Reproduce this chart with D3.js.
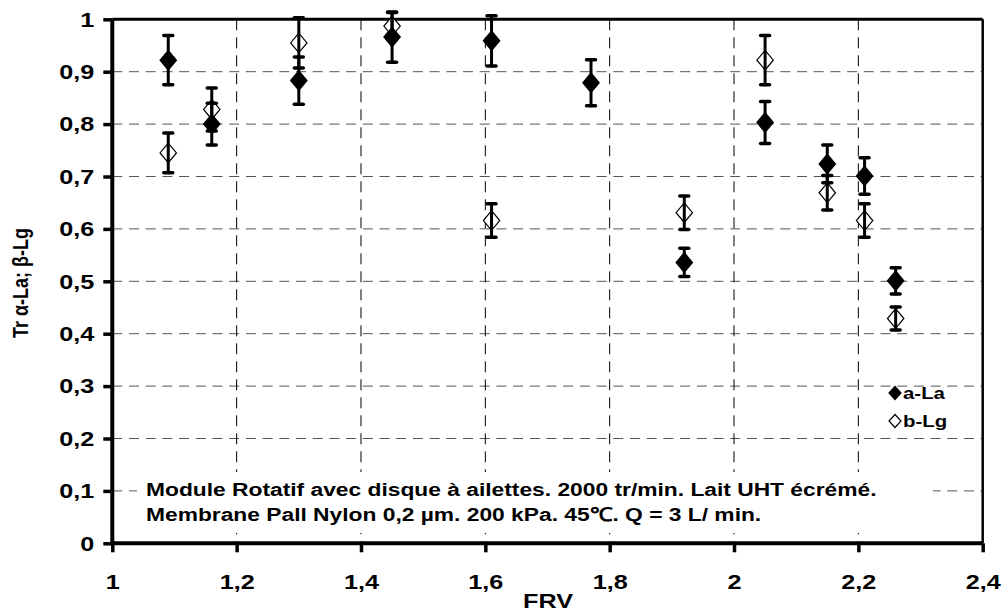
<!DOCTYPE html>
<html><head><meta charset="utf-8">
<script src="https://cdn.jsdelivr.net/npm/d3@7"></script>
<style>body{margin:0;background:#fff;} svg{display:block;font-family:"Liberation Sans",Arial,sans-serif;font-weight:bold;}</style>
</head><body>
<svg id="c" width="1006" height="614"></svg>
<script>
// Data
const frvALa = [1.09, 1.16, 1.30, 1.45, 1.61, 1.77, 1.92, 2.05, 2.15, 2.21, 2.26];
const aLa    = [0.922, 0.800, 0.883, 0.966, 0.959, 0.879, 0.536, 0.803, 0.724, 0.701, 0.501];
const aLaErr = [0.047, 0.040, 0.045, 0.048, 0.048, 0.044, 0.027, 0.040, 0.036, 0.035, 0.025];
const frvBLg = [1.09, 1.16, 1.30, 1.45, 1.61, 1.92, 2.05, 2.15, 2.21, 2.26];
const bLg    = [0.745, 0.828, 0.955, 0.987, 0.616, 0.631, 0.922, 0.669, 0.616, 0.429];
const bLgErr = [0.038, 0.041, 0.048, 0.026, 0.032, 0.032, 0.047, 0.033, 0.032, 0.022];
const xTicks = [1, 1.2, 1.4, 1.6, 1.8, 2, 2.2, 2.4];
const yTicks = [0, 0.1, 0.2, 0.3, 0.4, 0.5, 0.6, 0.7, 0.8, 0.9, 1];
const seriesNames = ["a-La", "b-Lg"];
const xTitle = "FRV";
const yTitle = "Tr \u03b1-La; \u03b2-Lg";
const noteLines = ["Module Rotatif avec disque à ailettes. 2000 tr/min. Lait UHT écrémé.",
                   "Membrane Pall Nylon 0,2 µm. 200 kPa. 45\u2103. Q = 3 L/ min."];

const SX = 1.2; // horizontal text stretch seen in the reference
const svg = d3.select("#c");
const L = 112.3, R = 982.7, T = 19.3, B = 543.3;
const x = d3.scaleLinear().domain([1, 2.4]).range([L, R]);
const y = d3.scaleLinear().domain([0, 1]).range([B, T]);
const loc = d3.formatLocale({decimal: ",", thousands: " ", grouping: [3], currency: ["", ""]});
const fmt = v => loc.format("~g")(+v.toFixed(2));

function stretch(sel) {
  sel.each(function () {
    const t = d3.select(this);
    const tx = +t.attr("x") || 0, ty = +t.attr("y") || 0;
    t.attr("x", 0).attr("y", 0).attr("transform", `translate(${tx},${ty}) scale(${SX},1)`);
  });
}

// gridlines
const g = svg.append("g");
g.selectAll(".hg").data(yTicks.filter(v => v > 0 && v < 1)).join("line")
  .attr("x1", L).attr("x2", R).attr("y1", d => y(d)).attr("y2", d => y(d))
  .attr("stroke", "#555").attr("stroke-width", 1).attr("stroke-dasharray", "10,6.7");
g.selectAll(".vg").data(xTicks.filter(v => v > 1 && v < 2.4)).join("line")
  .attr("x1", d => x(d)).attr("x2", d => x(d)).attr("y1", T).attr("y2", B)
  .attr("stroke", "#000").attr("stroke-width", 1).attr("stroke-dasharray", "11,7");

// note background box
svg.append("rect").attr("x", 137).attr("y", 472).attr("width", 796).attr("height", 61).attr("fill", "#fff");
// legend background box
svg.append("rect").attr("x", 884).attr("y", 387.5).attr("width", 78).attr("height", 44).attr("fill", "#fff");

// frame top/right
svg.append("line").attr("x1", L).attr("x2", R).attr("y1", T).attr("y2", T).attr("stroke", "#000").attr("stroke-width", 3);
svg.append("line").attr("x1", R).attr("x2", R).attr("y1", T).attr("y2", B).attr("stroke", "#000").attr("stroke-width", 2.5);

// axes
const yAxis = svg.append("g").attr("transform", `translate(${L},0)`)
  .call(d3.axisLeft(y).tickValues(yTicks).tickFormat(fmt).tickSize(9).tickPadding(9));
const xAxis = svg.append("g").attr("transform", `translate(0,${B})`)
  .call(d3.axisBottom(x).tickValues(xTicks).tickFormat(fmt).tickSize(9).tickPadding(22));
[yAxis, xAxis].forEach(a => {
  a.select(".domain").attr("stroke", "#000").attr("stroke-width", 4);
  a.selectAll(".tick line").attr("stroke", "#000").attr("stroke-width", 3.5);
  a.selectAll("text").attr("fill", "#000").style("font-size", "21px").style("font-weight", "bold")
   .style("font-family", '"Liberation Sans",Arial,sans-serif');
  stretch(a.selectAll("text"));
});
yAxis.select(".domain").attr("d", `M0,${B}V${T}`);
xAxis.select(".domain").attr("d", `M${L},0H${R}`);

// markers + error bars
const diamond = (hw, hh) => `M0,${-hh}L${hw},0L0,${hh}L${-hw},0Z`;
function drawSeries(xs, vs, es, filled) {
  const data = xs.map((d, i) => ({x: d, v: vs[i], e: es[i]}));
  svg.append("g").selectAll("path").data(data).join("path")
    .attr("transform", d => `translate(${x(d.x)},${y(d.v)})`)
    .attr("d", diamond(8.2, 9.8))
    .attr("fill", filled ? "#000" : "#fff").attr("stroke", "#000").attr("stroke-width", 1.2);
  const eb = svg.append("g").attr("stroke", "#000").attr("stroke-linecap", "round");
  eb.selectAll(".v").data(data).join("line")
    .attr("x1", d => x(d.x)).attr("x2", d => x(d.x))
    .attr("y1", d => y(d.v + d.e)).attr("y2", d => y(d.v - d.e)).attr("stroke-width", 3);
  ["top", "bot"].forEach(k => {
    eb.selectAll("." + k).data(data).join("line")
      .attr("x1", d => x(d.x) - 4.5).attr("x2", d => x(d.x) + 4.5)
      .attr("y1", d => y(k === "top" ? d.v + d.e : d.v - d.e))
      .attr("y2", d => y(k === "top" ? d.v + d.e : d.v - d.e)).attr("stroke-width", 3.5);
  });
}
drawSeries(frvBLg, bLg, bLgErr, false);
drawSeries(frvALa, aLa, aLaErr, true);

// legend
const lg = svg.append("g");
seriesNames.forEach((n, i) => {
  const ly = 393 + i * 28;
  lg.append("path").attr("transform", `translate(895,${ly})`).attr("d", diamond(6, 6.5))
    .attr("fill", i === 0 ? "#000" : "#fff").attr("stroke", "#000").attr("stroke-width", 1.2);
  lg.append("text").attr("x", 903).attr("y", ly).attr("dy", "0.36em")
    .style("font-size", "17px").text(n);
});
stretch(lg.selectAll("text"));

// note
const note = svg.append("g");
noteLines.forEach((t, i) => {
  note.append("text").attr("x", 146).attr("y", 496 + i * 25).style("font-size", "19px").text(t);
});
stretch(note.selectAll("text"));

// titles
const xt = svg.append("text").attr("x", 548).attr("y", 608).attr("text-anchor", "middle").style("font-size", "21px").text(xTitle);
stretch(xt);
svg.append("text").attr("transform", "translate(28,283) rotate(-90) scale(1,1.2)").attr("text-anchor", "middle")
  .style("font-size", "18px").text(yTitle);
</script>
</body></html>
